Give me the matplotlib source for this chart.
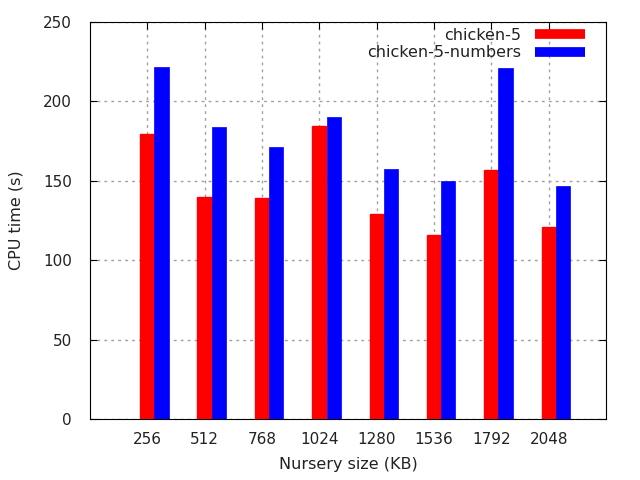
import matplotlib
matplotlib.use("Agg")
import matplotlib.pyplot as plt
import numpy as np
from matplotlib.lines import Line2D

# nursery sizes and CPU times
sizes = ["256", "512", "768", "1024", "1280", "1536", "1792", "2048"]
chicken5 = [179.4, 139.8, 139.2, 184.5, 129.1, 115.9, 156.8, 120.9]
chicken5_numbers = [221.6, 183.8, 171.3, 190.1, 157.4, 149.9, 221.0, 146.7]

x = np.arange(len(sizes))
w = 0.25

fig = plt.figure(figsize=(6.4, 4.8), dpi=100)
ax = fig.add_axes([90/640, 1 - 419.3/480, 516/640, 397.3/480])

# thin edges in the face colour close the pixel gap between the two bars
ax.bar(x, chicken5, w, color="#ff0000", edgecolor="#ff0000", linewidth=1, zorder=3)
ax.bar(x + w, chicken5_numbers, w, color="#0000ff", edgecolor="#0000ff",
       linewidth=0.5, zorder=3)

ax.set_xlim(-1, 8)
ax.set_ylim(0, 250)
ax.set_xticks(x)
ax.set_xticklabels(sizes)
ax.set_yticks(np.arange(0, 251, 50))

ax.tick_params(direction="in", top=True, right=True, length=5, labelsize=11,
               colors="black", pad=13)
ax.tick_params(axis="x", pad=9)
for lbl in ax.get_xticklabels() + ax.get_yticklabels():
    lbl.set_color("#222222")

ax.grid(True, color="#a0a0a0", linestyle=(0, (2, 3)), linewidth=1, zorder=0)

ax.set_xlabel("Nursery size (KB)", fontsize=11.5, color="#222222", labelpad=7)
ax.set_ylabel("CPU time (s)", fontsize=11.5, color="#222222", labelpad=14)

handles = [Line2D([0], [0], color="#ff0000", lw=7, solid_capstyle="butt"),
           Line2D([0], [0], color="#0000ff", lw=7, solid_capstyle="butt")]
ax.legend(handles, ["chicken-5", "chicken-5-numbers"], loc="upper right",
          frameon=False, markerfirst=False, handlelength=3.1, fontsize=11.5,
          labelspacing=0.15, handletextpad=0.9, borderpad=0, borderaxespad=0,
          bbox_to_anchor=(0.959, 0.985), labelcolor="#222222")

fig.savefig("out.png", dpi=100)
